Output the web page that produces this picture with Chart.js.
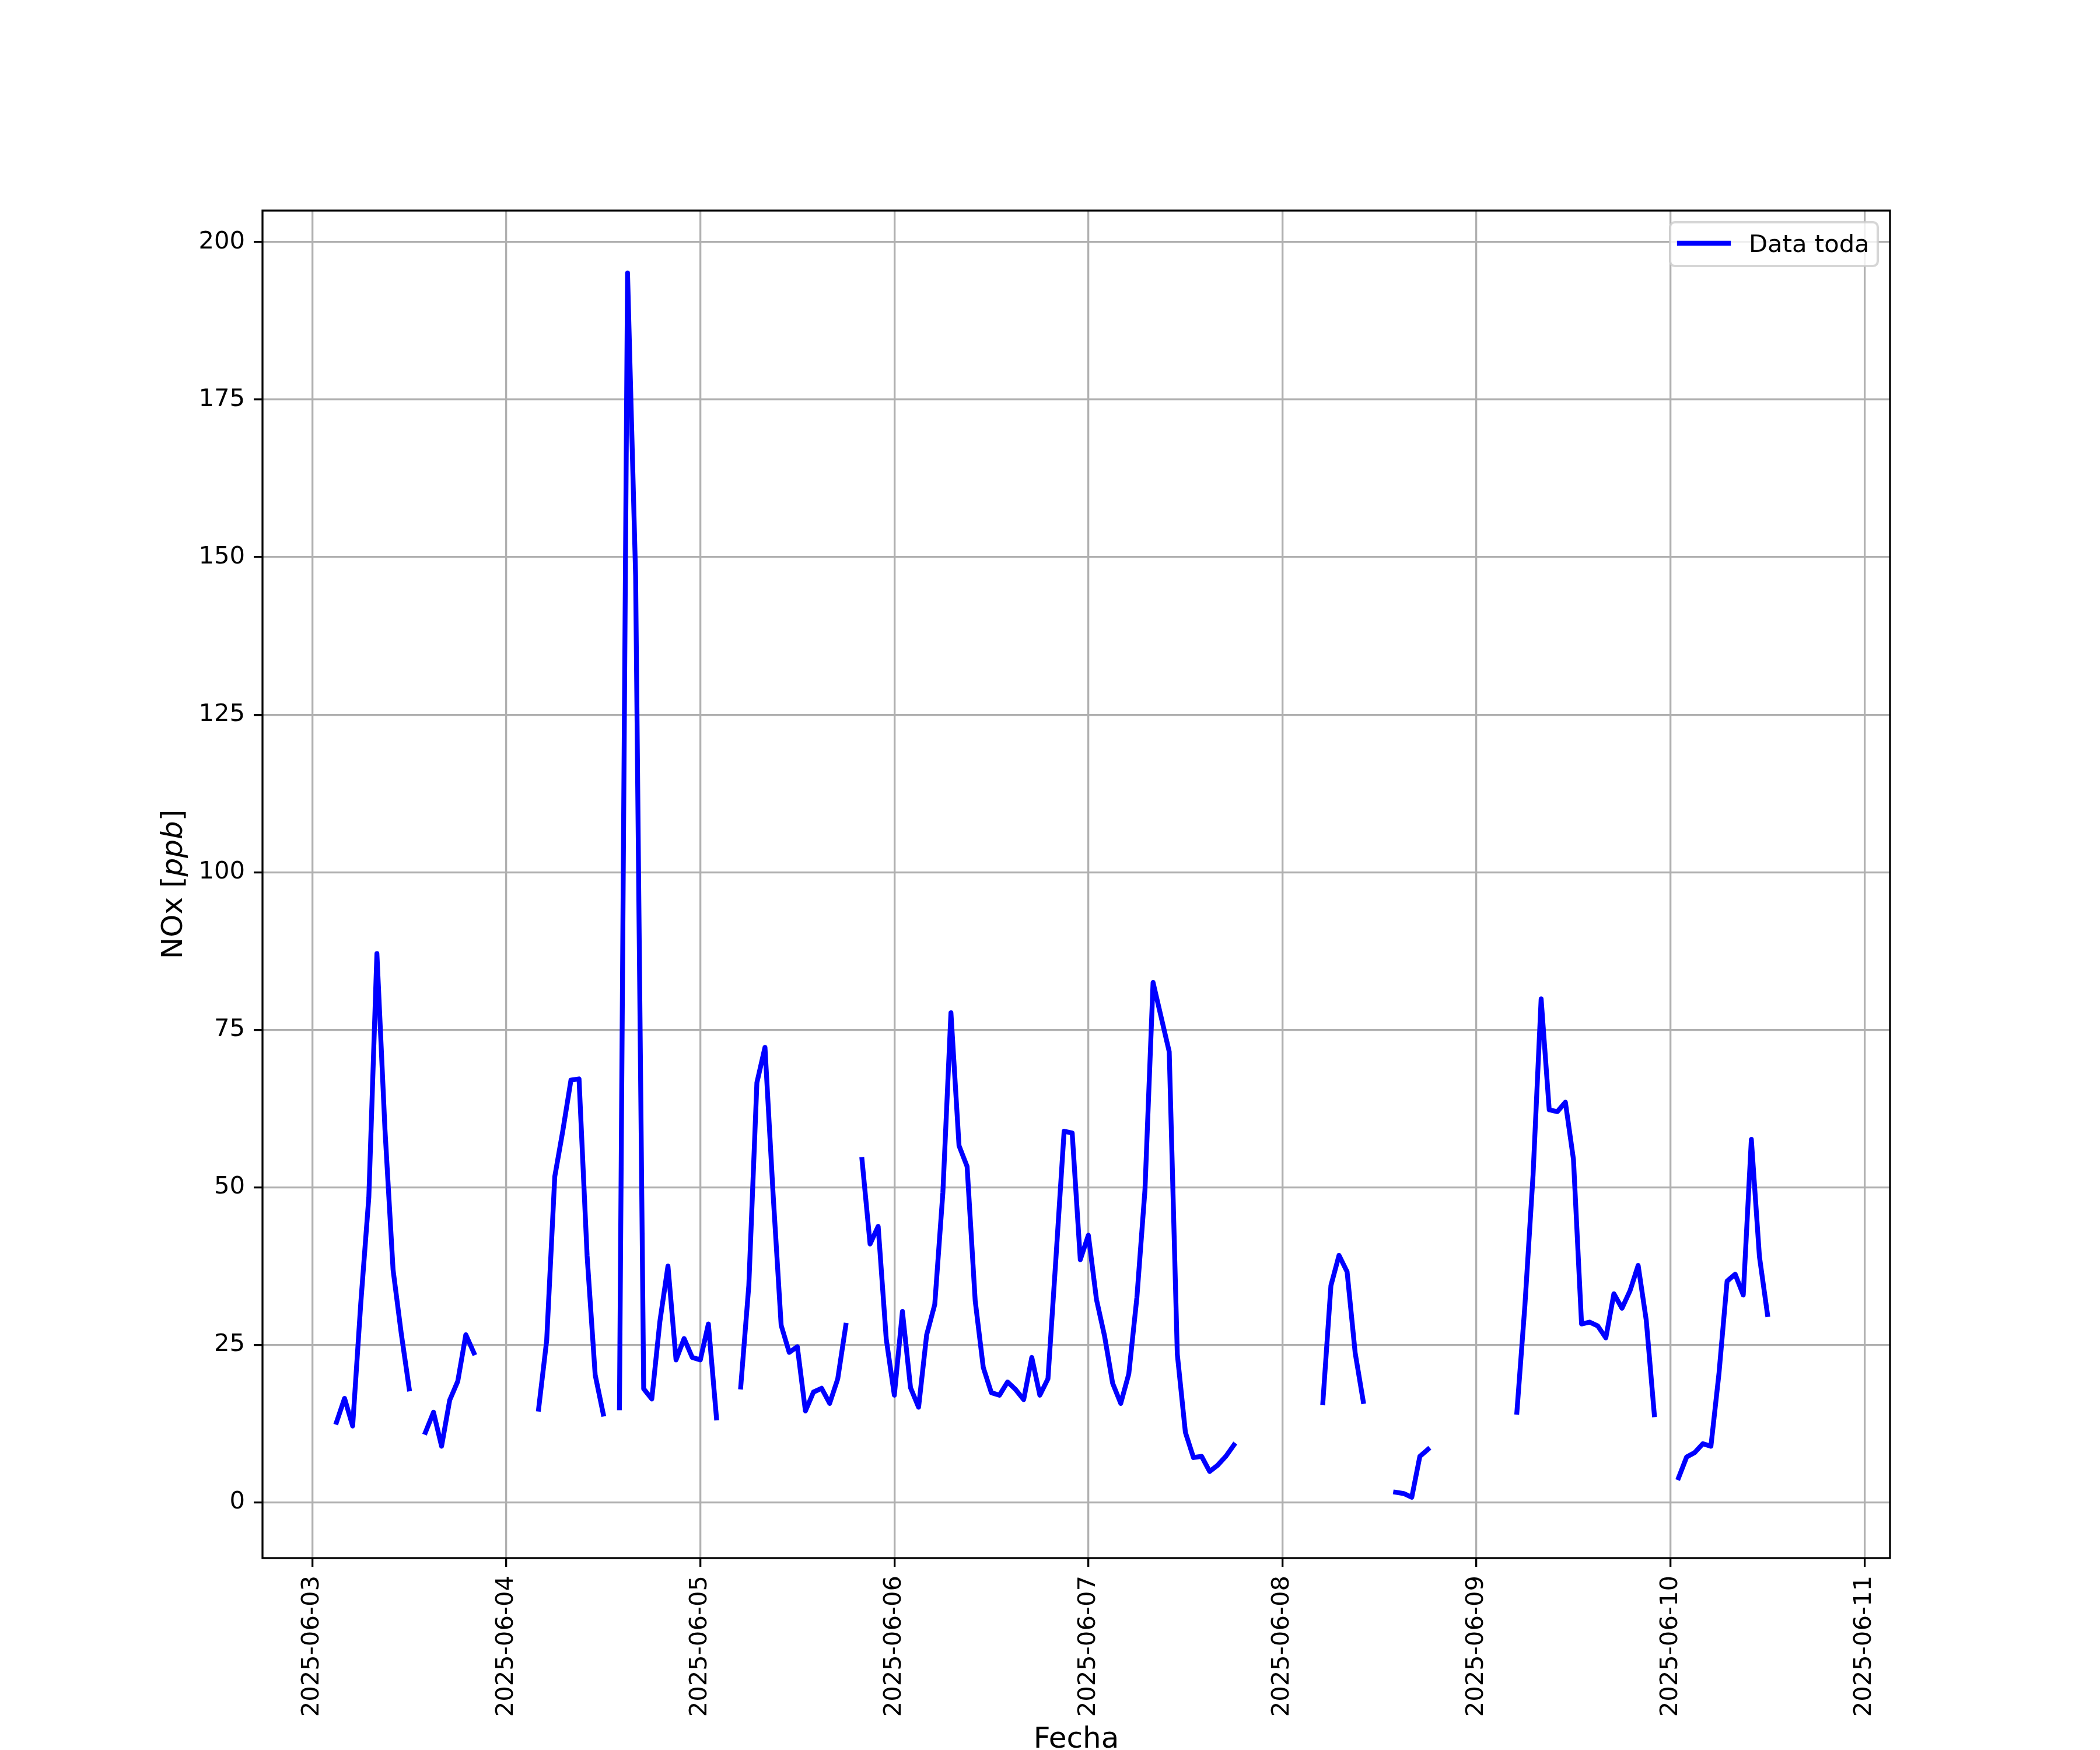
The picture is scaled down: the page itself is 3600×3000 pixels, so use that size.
<!DOCTYPE html>
<html>
<head>
<meta charset="utf-8">
<script src="https://cdn.jsdelivr.net/npm/chart.js@4.4.1/dist/chart.umd.min.js"></script>
<style>
  html, body { margin: 0; padding: 0; background: #fff; }
  canvas { display: block; }
</style>
</head>
<body>
<canvas id="noxChart" width="3600" height="3000"></canvas>
<script>
// hourly NOx [ppb], one array per day (index = hour 0..23), null = no data
const nox0603 = [null, null, null, 12.7, 16.5, 12.1, 31.5, 48.4, 87.1, 59.1, 36.9, 26.9,
  18.0, null, 11.1, 14.3, 8.9, 16.2, 19.2, 26.6, 23.7, null, null, null];
const nox0604 = [null, null, null, null, 14.8, 25.7, 51.7, 59.0, 67.0, 67.2, 39.1, 20.2,
  14.0, null, 15.0, 195.1, 147.0, 18.0, 16.4, 28.7, 37.5, 22.6, 26.0, 23.0];
const nox0605 = [22.6, 28.3, 13.4, null, null, 18.3, 34.4, 66.6, 72.2, 49.0, 28.1, 23.8,
  24.7, 14.5, 17.5, 18.1, 15.7, 19.6, 28.1, null, 54.4, 41.0, 43.8, 25.9];
const nox0606 = [17.0, 30.3, 18.2, 15.1, 26.6, 31.4, 49.1, 77.7, 56.6, 53.3, 32.0, 21.4,
  17.4, 17.0, 19.1, 17.9, 16.3, 23.0, 17.0, 19.6, 39.0, 58.9, 58.6, 38.5];
const nox0607 = [42.4, 32.2, 26.4, 18.9, 15.7, 20.4, 32.5, 49.6, 82.5, 77.0, 71.5, 23.5,
  11.1, 7.1, 7.3, 4.9, 5.9, 7.3, 9.1, null, null, null, null, null];
const nox0608 = [null, null, null, null, null, 15.8, 34.4, 39.2, 36.6, 23.7, 16.0, null,
  null, null, 1.6, 1.4, 0.8, 7.3, 8.4, null, null, null, null, null];
const nox0609 = [null, null, null, null, null, 14.3, 31.4, 51.9, 79.9, 62.3, 62.0, 63.5,
  54.4, 28.3, 28.6, 28.0, 26.1, 33.1, 30.8, 33.6, 37.6, 28.9, 13.9, null];
const nox0610 = [null, 3.9, 7.2, 7.9, 9.3, 8.9, 20.5, 35.1, 36.2, 32.9, 57.6, 39.0,
  29.8, null, null, null, null, null, null];

const days = [nox0603, nox0604, nox0605, nox0606, nox0607, nox0608, nox0609, nox0610];

// x axis = hours since 2025-06-03 00:00
const dateLabels = ['2025-06-03', '2025-06-04', '2025-06-05', '2025-06-06', '2025-06-07',
  '2025-06-08', '2025-06-09', '2025-06-10', '2025-06-11'];
const yTicks = [0, 25, 50, 75, 100, 125, 150, 175, 200];

const seriesLabel = 'Data toda';
const xTitle = 'Fecha';

const points = [];
days.forEach((day, d) => {
  day.forEach((v, h) => points.push({ x: d * 24 + h, y: v }));
});

const FONT = '"DejaVu Sans", "Liberation Sans", sans-serif';
const LW = 3.3;      // spines / grid, 0.8pt at 300 dpi
const LINE_W = 8.3;  // data line, 2pt at 300 dpi

const decor = {
  id: 'decor',
  afterDraw(chart) {
    const { ctx, chartArea: a } = chart;
    ctx.save();

    // axes frame
    ctx.strokeStyle = '#000';
    ctx.lineWidth = LW;
    ctx.strokeRect(a.left, a.top, a.right - a.left, a.bottom - a.top);

    // x title
    ctx.fillStyle = '#000';
    ctx.font = '50px ' + FONT;
    ctx.textAlign = 'left';
    ctx.textBaseline = 'alphabetic';
    const xw = ctx.measureText(xTitle).width;
    ctx.fillText(xTitle, (a.left + a.right) / 2 - xw / 2, 2996);

    // y title, "ppb" in italic like mathtext
    const parts = [['NOx [', '50px '], ['ppb', 'italic 50px '], [']', '50px ']];
    let total = 0;
    parts.forEach(p => { ctx.font = p[1] + FONT; total += ctx.measureText(p[0]).width; });
    ctx.translate(312, (a.top + a.bottom) / 2);
    ctx.rotate(-Math.PI / 2);
    let cx = -total / 2;
    parts.forEach(p => {
      ctx.font = p[1] + FONT;
      ctx.fillText(p[0], cx, 0);
      cx += ctx.measureText(p[0]).width;
    });
    ctx.setTransform(1, 0, 0, 1, 0, 0);

    // legend box, upper right
    const bx = 2863, by = 381, bw = 356, bh = 75, r = 8;
    ctx.beginPath();
    ctx.moveTo(bx + r, by);
    ctx.arcTo(bx + bw, by, bx + bw, by + bh, r);
    ctx.arcTo(bx + bw, by + bh, bx, by + bh, r);
    ctx.arcTo(bx, by + bh, bx, by, r);
    ctx.arcTo(bx, by, bx + bw, by, r);
    ctx.closePath();
    ctx.fillStyle = 'rgba(255,255,255,0.8)';
    ctx.fill();
    ctx.strokeStyle = 'rgba(204,204,204,0.8)';
    ctx.lineWidth = 4;
    ctx.stroke();

    ctx.beginPath();
    ctx.moveTo(2879, 417);
    ctx.lineTo(2963, 417);
    ctx.strokeStyle = '#0000ff';
    ctx.lineWidth = LINE_W;
    ctx.lineCap = 'square';
    ctx.stroke();

    ctx.fillStyle = '#000';
    ctx.font = '41.7px ' + FONT;
    ctx.textAlign = 'left';
    ctx.fillText(seriesLabel, 2998, 432);
    ctx.restore();
  }
};

Chart.defaults.font.family = FONT;
Chart.defaults.color = '#000';

new Chart(document.getElementById('noxChart'), {
  type: 'line',
  data: {
    datasets: [{
      label: seriesLabel,
      data: points,
      borderColor: '#0000ff',
      backgroundColor: '#0000ff',
      borderWidth: LINE_W,
      borderJoinStyle: 'round',
      borderCapStyle: 'square',
      pointRadius: 0,
      tension: 0,
      spanGaps: false,
    }],
  },
  options: {
    responsive: false,
    animation: false,
    devicePixelRatio: 1,
    layout: { padding: { top: 361, right: 360, left: 0, bottom: 0 } },
    plugins: {
      legend: { display: false },
      tooltip: { enabled: false },
    },
    scales: {
      x: {
        type: 'linear',
        min: -6.15,
        max: 195.15,
        afterFit: (scale) => { scale.height = 329; },
        afterBuildTicks: (scale) => {
          scale.ticks = dateLabels.map((_, i) => ({ value: i * 24 }));
        },
        ticks: {
          font: { size: 41.7 },
          padding: 15,
          maxRotation: 90,
          minRotation: 90,
          autoSkip: false,
          callback: (v) => dateLabels[Math.round(v / 24)],
        },
        grid: {
          color: '#b0b0b0',
          lineWidth: LW,
          tickColor: '#000',
          tickWidth: LW,
          tickLength: 15,
        },
        border: { display: false },
      },
      y: {
        min: -8.85,
        max: 205.0,
        afterFit: (scale) => { scale.width = 450; },
        afterBuildTicks: (scale) => {
          scale.ticks = yTicks.map(v => ({ value: v }));
        },
        ticks: {
          font: { size: 41.7 },
          padding: 15,
        },
        grid: {
          color: '#b0b0b0',
          lineWidth: LW,
          tickColor: '#000',
          tickWidth: LW,
          tickLength: 15,
        },
        border: { display: false },
      },
    },
  },
  plugins: [decor],
});
</script>
</body>
</html>
